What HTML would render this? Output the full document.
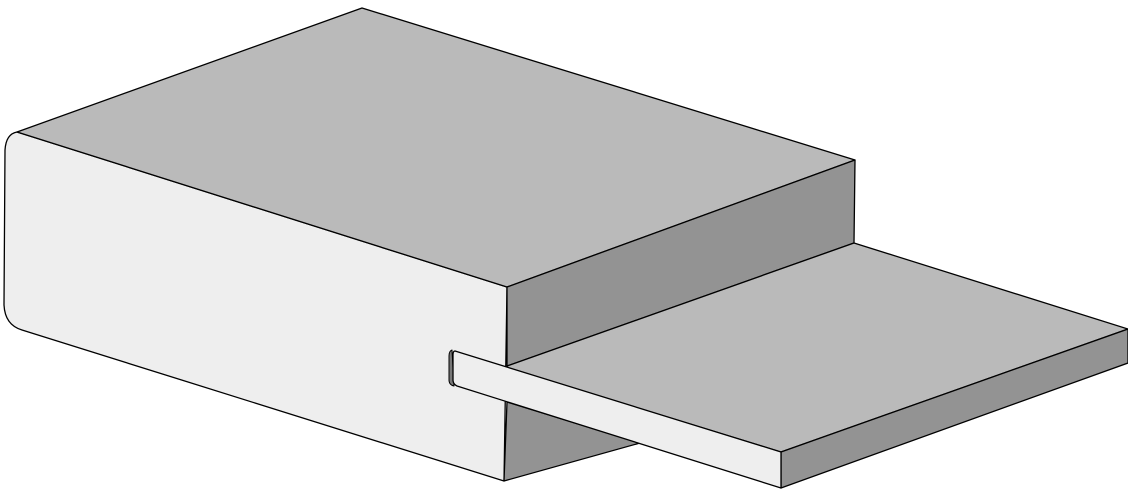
<!DOCTYPE html>
<html><head><meta charset="utf-8"><style>html,body{margin:0;padding:0;background:#fff;width:1128px;height:495px;overflow:hidden}</style></head>
<body>
<svg width="1128" height="495" viewBox="0 0 1128 495" xmlns="http://www.w3.org/2000/svg" stroke="#000" stroke-width="1.3" stroke-linejoin="round">
  <path fill="#eeeeee" d="M17,132 L507,287 L504,481 L22,330 Q5,325 4,305 L5,150 Q6,134 17,132 Z"/>
  <path fill="#bababa" d="M17,132 L362,8 L855,160 L507,287 Z"/>
  <path fill="#939393" d="M507,287 L855,160 L854,243 L507,366 Z"/>
  <path fill="#939393" d="M507,402 L640,443 L504,481 Z"/>
  <path fill="#bababa" d="M507,366 L854,243 L1128,329 L781,452 L507,368 Z"/>
  <path fill="#939393" d="M781,452 L1128,329 L1128,363 L781,488 Z"/>
  <path fill="#777" stroke-width="1" d="M452,350 Q449,351 449,356 L449,380 Q449,385 454,386 Z"/>
  <path fill="#eeeeee" d="M455,351 L781,452 L781,488 L457,386 Q453,384 453,380 L453,355 Q453,351 455,351 Z"/>
</svg>
</body></html>
